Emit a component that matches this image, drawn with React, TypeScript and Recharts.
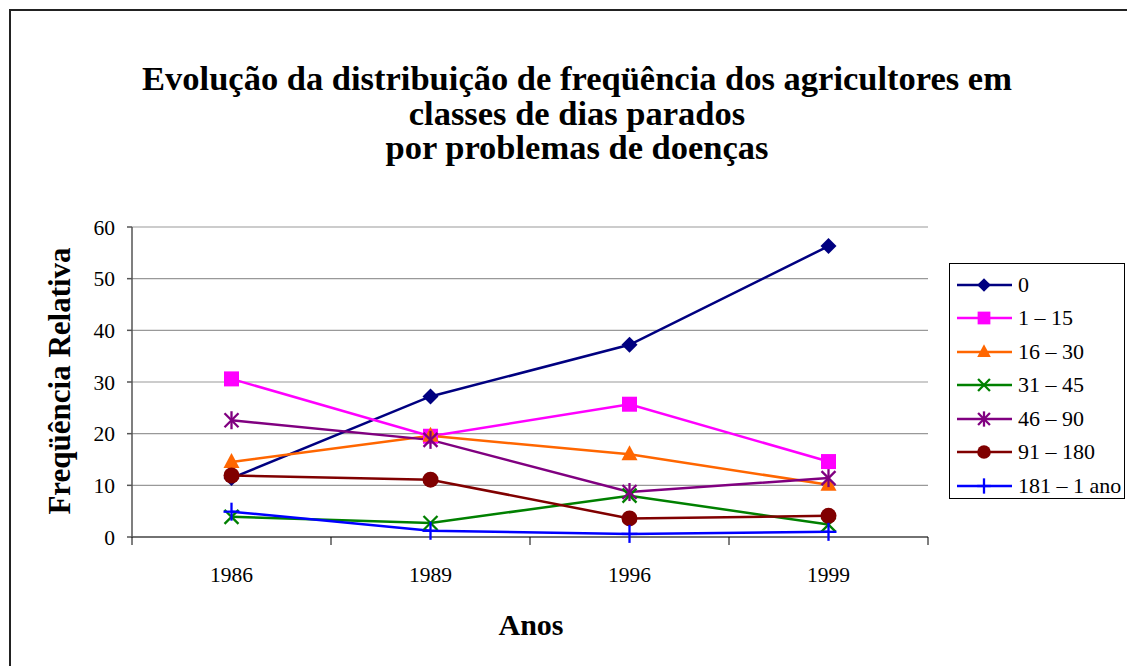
import React from "react";
import { CartesianGrid, Legend, Line, LineChart, XAxis, YAxis } from "recharts";

const years = ["1986", "1989", "1996", "1999"];

const classe0 = [11.4, 27.2, 37.2, 56.3];
const classe1a15 = [30.6, 19.5, 25.7, 14.6];
const classe16a30 = [14.5, 19.6, 16.0, 10.1];
const classe31a45 = [3.9, 2.7, 8.0, 2.4];
const classe46a90 = [22.6, 18.8, 8.7, 11.4];
const classe91a180 = [11.9, 11.1, 3.6, 4.1];
const classe181a1ano = [4.9, 1.2, 0.6, 1.0];

const yTicks = [0, 10, 20, 30, 40, 50, 60];

type Shape = "diamond" | "square" | "triangle" | "x" | "star" | "circle" | "plus";

const series: { key: string; name: string; values: number[]; color: string; shape: Shape }[] = [
  { key: "c0", name: "0", values: classe0, color: "#000080", shape: "diamond" },
  { key: "c1", name: "1 – 15", values: classe1a15, color: "#FF00FF", shape: "square" },
  { key: "c16", name: "16 – 30", values: classe16a30, color: "#FF6600", shape: "triangle" },
  { key: "c31", name: "31 – 45", values: classe31a45, color: "#008000", shape: "x" },
  { key: "c46", name: "46 – 90", values: classe46a90, color: "#800080", shape: "star" },
  { key: "c91", name: "91 – 180", values: classe91a180, color: "#800000", shape: "circle" },
  { key: "c181", name: "181 – 1 ano", values: classe181a1ano, color: "#0000FF", shape: "plus" },
];

const data = years.map((year, i) => {
  const row: Record<string, string | number> = { year };
  series.forEach((s) => {
    row[s.key] = s.values[i];
  });
  return row;
});

const W = 1127;
const H = 666;
const PLOT_LEFT = 132;
const PLOT_RIGHT = 928;
const HALF_BAND = (PLOT_RIGHT - PLOT_LEFT) / years.length / 2;
const FONT = "'Liberation Serif', 'Times New Roman', serif";

function Marker({ shape, color, cx, cy, s = 1 }: { shape: Shape; color: string; cx: number; cy: number; s?: number }) {
  const r = 8 * s;
  switch (shape) {
    case "diamond":
      return <polygon points={`${cx},${cy - r} ${cx + r},${cy} ${cx},${cy + r} ${cx - r},${cy}`} fill={color} />;
    case "square":
      return <rect x={cx - 7.5 * s} y={cy - 7.5 * s} width={15 * s} height={15 * s} fill={color} />;
    case "triangle":
      return <polygon points={`${cx},${cy - 9 * s} ${cx + 8 * s},${cy + 6 * s} ${cx - 8 * s},${cy + 6 * s}`} fill={color} />;
    case "x":
      return (
        <g stroke={color} strokeWidth={2.3}>
          <line x1={cx - 7 * s} y1={cy - 7 * s} x2={cx + 7 * s} y2={cy + 7 * s} />
          <line x1={cx - 7 * s} y1={cy + 7 * s} x2={cx + 7 * s} y2={cy - 7 * s} />
        </g>
      );
    case "star":
      return (
        <g stroke={color} strokeWidth={2.3}>
          <line x1={cx - 7 * s} y1={cy - 7 * s} x2={cx + 7 * s} y2={cy + 7 * s} />
          <line x1={cx - 7 * s} y1={cy + 7 * s} x2={cx + 7 * s} y2={cy - 7 * s} />
          <line x1={cx} y1={cy - 9 * s} x2={cx} y2={cy + 9 * s} />
        </g>
      );
    case "circle":
      return <circle cx={cx} cy={cy} r={8 * s} fill={color} />;
    case "plus":
      return (
        <g stroke={color} strokeWidth={2.3}>
          <line x1={cx - 8 * s} y1={cy} x2={cx + 8 * s} y2={cy} />
          <line x1={cx} y1={cy - 9 * s} x2={cx} y2={cy + 9 * s} />
        </g>
      );
  }
}

// category labels at band centres, tick marks on band boundaries
function YearTick(props: any) {
  const { x, y, payload, index } = props;
  return (
    <g>
      <line x1={x - HALF_BAND} y1={y - 8} x2={x - HALF_BAND} y2={y} stroke="#000" strokeWidth={1} />
      {index === years.length - 1 && (
        <line x1={x + HALF_BAND} y1={y - 8} x2={x + HALF_BAND} y2={y} stroke="#000" strokeWidth={1} />
      )}
      <text x={x} y={y + 37} textAnchor="middle" fontFamily={FONT} fontSize={21.5} fill="#000">
        {payload.value}
      </text>
    </g>
  );
}

function LegendBox() {
  return (
    <div
      style={{
        border: "1px solid #000",
        background: "#fff",
        width: 176,
        height: 236,
        boxSizing: "border-box",
        paddingTop: 4,
        fontFamily: FONT,
      }}
    >
      {series.map((s) => (
        <div key={s.key} style={{ display: "flex", alignItems: "center", height: 33.5 }}>
          <svg width={68} height={24} style={{ flex: "none" }}>
            <line x1={7} y1={12} x2={62} y2={12} stroke={s.color} strokeWidth={2.5} />
            <Marker shape={s.shape} color={s.color} cx={34} cy={12} s={0.85} />
          </svg>
          <span style={{ fontSize: 22, color: "#000", whiteSpace: "nowrap" }}>{s.name}</span>
        </div>
      ))}
    </div>
  );
}

export default function App() {
  return (
    <div style={{ position: "absolute", left: 0, top: 0, width: W, height: H, overflow: "hidden", background: "#fff" }}>
      <div
        style={{
          position: "absolute",
          left: 9,
          top: 9,
          width: W,
          height: H,
          borderTop: "2px solid #222",
          borderLeft: "2px solid #222",
        }}
      />
      <div
        style={{
          position: "absolute",
          left: 0,
          top: 61,
          width: 1154,
          textAlign: "center",
          fontFamily: FONT,
          fontWeight: "bold",
          fontSize: 34.5,
          lineHeight: "34.5px",
          color: "#000",
        }}
      >
        Evolução da distribuição de freqüência dos agricultores em
        <br />
        classes de dias parados
        <br />
        por problemas de doenças
      </div>
      <div
        style={{
          position: "absolute",
          left: 60 - 200,
          top: 381 - 20,
          width: 400,
          height: 40,
          lineHeight: "40px",
          textAlign: "center",
          transform: "rotate(-90deg)",
          fontFamily: FONT,
          fontWeight: "bold",
          fontSize: 31,
          color: "#000",
        }}
      >
        Freqüência Relativa
      </div>
      <div
        style={{
          position: "absolute",
          left: 531 - 100,
          top: 625 - 20,
          width: 200,
          height: 40,
          lineHeight: "40px",
          textAlign: "center",
          fontFamily: FONT,
          fontWeight: "bold",
          fontSize: 30,
          color: "#000",
        }}
      >
        Anos
      </div>
      <div style={{ position: "absolute", left: 0, top: 0 }}>
        <LineChart width={W} height={H} data={data} margin={{ top: 227, right: W - PLOT_RIGHT, bottom: 69, left: 52 }}>
          <CartesianGrid vertical={false} stroke="#999" strokeWidth={1.2} />
          <XAxis
            dataKey="year"
            height={60}
            stroke="#555"
            strokeWidth={1.5}
            tickLine={false}
            tick={<YearTick />}
            interval={0}
            padding={{ left: HALF_BAND, right: HALF_BAND }}
          />
          <YAxis
            width={80}
            domain={[0, 60]}
            ticks={yTicks}
            interval={0}
            stroke="#555"
            strokeWidth={1.5}
            tickSize={5}
            tickMargin={12}
            tick={{ fill: "#000", fontFamily: FONT, fontSize: 21.5 }}
          />
          <Legend
            layout="horizontal"
            align="center"
            verticalAlign="middle"
            content={<LegendBox />}
            wrapperStyle={{ left: 949, top: 263, width: 178, height: 238 }}
          />
          {series.map((s) => (
            <Line
              key={s.key}
              type="linear"
              dataKey={s.key}
              name={s.name}
              stroke={s.color}
              strokeWidth={2.5}
              isAnimationActive={false}
              dot={(p: any) => <Marker key={`${s.key}-${p.index}`} shape={s.shape} color={s.color} cx={p.cx} cy={p.cy} />}
              activeDot={false}
            />
          ))}
        </LineChart>
      </div>
    </div>
  );
}
